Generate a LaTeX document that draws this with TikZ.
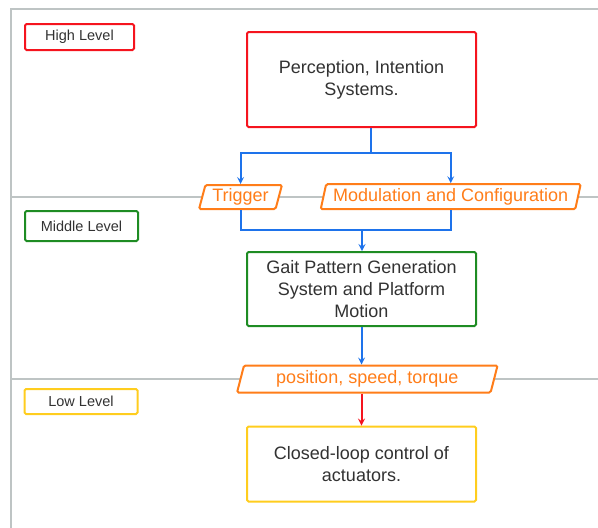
\documentclass[tikz,border=0pt]{standalone}
\usepackage{fontspec}
\setmainfont{Liberation Sans}
\usetikzlibrary{shapes.geometric}

\definecolor{hired}{RGB}{245,20,30}
\definecolor{midgreen}{RGB}{30,140,35}
\definecolor{lowyellow}{RGB}{255,205,30}
\definecolor{sigorange}{RGB}{255,125,25}
\definecolor{flowblue}{RGB}{30,115,235}
\definecolor{lanegray}{RGB}{190,196,196}
\definecolor{txtgray}{RGB}{50,50,50}

\tikzset{
  lane/.style={draw=lanegray, line width=2pt},
  lvlbox/.style={draw, line width=2pt, rounded corners=1.5pt, text=txtgray,
    font=\fontsize{14.5}{17}\selectfont, inner sep=0pt},
  blockbox/.style={draw, line width=2pt, rounded corners=1.5pt, text=txtgray, fill=white,
    font=\fontsize{18}{22}\selectfont, align=center, inner sep=0pt,
    minimum width=229pt},
  signal/.style={trapezium, trapezium left angle=73, trapezium right angle=107,
    trapezium stretches=true, draw=sigorange, line width=2pt, rounded corners=1.5pt,
    fill=white, text=sigorange, font=\fontsize{18}{22}\selectfont, inner sep=0pt},
  flow/.style={draw=flowblue, line width=2pt},
}

\begin{document}
\begin{tikzpicture}[x=1pt, y=-1pt, >=stealth]
  \useasboundingbox (0,0) rectangle (598,528);

  % Ebenen (Rahmen und Trennlinien)
  \draw[lane] (598,9) -- (11,9) -- (11,528);
  \draw[lane] (11,197) -- (598,197);
  \draw[lane] (11,379) -- (598,379);

  % Ebenen-Beschriftungen
  \node[lvlbox, draw=hired, minimum width=109pt, minimum height=26pt] (high) at (79.5,37) {High Level};
  \node[lvlbox, draw=midgreen, minimum width=113pt, minimum height=30pt] (middle) at (81.5,226) {Middle Level};
  \node[lvlbox, draw=lowyellow, minimum width=113pt, minimum height=25pt] (low) at (81,401.5) {Low Level};

  % Bloecke
  \node[blockbox, draw=hired, minimum height=95pt] (percept) at (361.5,79.5) {Perception, Intention\\Systems.};
  \node[blockbox, draw=midgreen, minimum height=74pt] (gait) at (361.5,289) {Gait Pattern Generation\\System and Platform\\Motion};
  \node[blockbox, draw=lowyellow, minimum height=75pt] (actuate) at (361.5,464) {Closed-loop control of\\actuators.};

  % Signale
  \node[signal, minimum width=83pt, minimum height=24pt] (trigger) at (240.5,197) {Trigger};
  \node[signal, minimum width=261pt, minimum height=25pt] (modconf) at (450.7,196.7) {Modulation and Configuration};
  \node[signal, minimum width=261pt, minimum height=27pt] (pst) at (367.3,379) {position, speed, torque};

  % Verbindungen
  \coordinate (split) at (371,153);
  \coordinate (merge) at (362,230);
  \draw[flow] ([xshift=9.5pt]percept.south) -- (split);
  \draw[flow, ->] (split) -| (trigger.north);
  \draw[flow, ->] (split) -| (modconf.north);
  \draw[flow] (trigger.south) |- (merge);
  \draw[flow] (modconf.south) |- (merge);
  \draw[flow, ->] (merge) -- (merge |- gait.north);
  \draw[flow, ->] (gait.south) -- (gait.south |- pst.north);
  \draw[draw=hired, line width=2pt, ->] (actuate.north |- pst.south) -- (actuate.north);

\end{tikzpicture}
\end{document}
